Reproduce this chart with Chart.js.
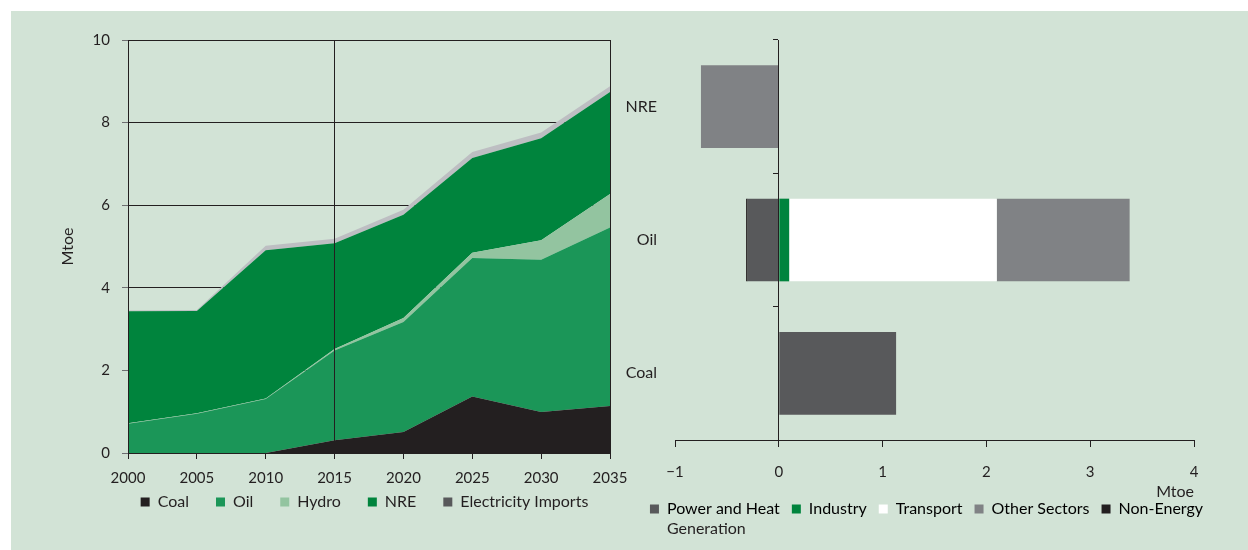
<!DOCTYPE html>
<html lang="en">
<head>
  <meta charset="UTF-8" />
  <title>Energy demand and change by sector</title>
  <script src="https://cdn.jsdelivr.net/npm/chart.js"></script>
  <style>
    html, body { margin: 0; padding: 0; background: #fff; overflow: hidden; }
    #panel { position: absolute; left: 11px; top: 11px; right: 0; bottom: 0; background: #d2e3d6; }
    .box { position: absolute; top: 0; height: 550px; }
    #leftBox { left: 0; width: 729px; }
    #rightBox { left: 610px; width: 633px; }
  </style>
</head>
<body>
  <div id="panel"></div>
  <div class="box" id="leftBox"><canvas id="areaChart"></canvas></div>
  <div class="box" id="rightBox"><canvas id="barChart"></canvas></div>

  <script>
    // left chart: primary energy by fuel, Mtoe (stacked)
    const years = ['2000', '2005', '2010', '2015', '2020', '2025', '2030', '2035'];
    const coal  = [0, 0, 0, 0.31, 0.51, 1.37, 0.99, 1.14];
    const oil   = [0.71, 0.95, 1.31, 2.17, 2.66, 3.35, 3.69, 4.32];
    const hydro = [0.01, 0.01, 0.01, 0.04, 0.10, 0.13, 0.47, 0.81];
    const nre   = [2.71, 2.48, 3.59, 2.56, 2.50, 2.29, 2.47, 2.47];
    const elecImports = [0.02, 0.02, 0.11, 0.11, 0.12, 0.15, 0.14, 0.14];
    const markedYears = ['2015', '2035'];

    // right chart: change by sector, Mtoe
    const fuels = ['NRE', 'Oil', 'Coal'];
    const powerHeat    = [0, -0.30, 1.13];
    const industry     = [0, 0.10, 0];
    const transport    = [0, 2.00, 0];
    const otherSectors = [-0.75, 1.28, 0];
    const nonEnergy    = [0, -0.015, 0];

    const ink = '#231f20';
    const font = { family: 'Lato', size: 16 };
    const tickFont = { family: 'Lato', size: 15 };
    Chart.defaults.color = ink;
    Chart.defaults.font.family = 'Lato';
    Chart.defaults.font.size = 16;

    const areaSeries = [
      { label: 'Coal', data: coal, color: '#231f20', key: '#231f20' },
      { label: 'Oil', data: oil, color: '#1b9658', key: '#1b9658' },
      { label: 'Hydro', data: hydro, color: '#93c4a0', key: '#93c4a0' },
      { label: 'NRE', data: nre, color: '#00843d', key: '#00843d' },
      { label: 'Electricity Imports', data: elecImports, color: '#bdbec2', key: '#58595b' }
    ];

    new Chart(document.getElementById('areaChart'), {
      type: 'line',
      data: {
        labels: years,
        datasets: areaSeries.map((s, i) => ({
          label: s.label,
          data: s.data,
          backgroundColor: s.color,
          borderWidth: 0,
          pointRadius: 0,
          tension: 0,
          fill: i === 0 ? 'origin' : '-1'
        }))
      },
      options: {
        responsive: true,
        maintainAspectRatio: false,
        animation: false,
        layout: { padding: { left: 0, right: 0, top: 40, bottom: 30 } },
        plugins: {
          tooltip: { enabled: false },
          legend: {
            position: 'bottom',
            // empty title with negative padding pulls the row up, so item spacing can stay wide
            title: { display: true, text: '', font: { family: 'Lato', size: 14 }, padding: { top: -40.8, bottom: 0 } },
            labels: {
              boxWidth: 9, boxHeight: 9, padding: 27, font: font,
              generateLabels: chart => areaSeries.map((s, i) => ({
                text: s.label, fillStyle: s.key, strokeStyle: s.key, lineWidth: 0, datasetIndex: i
              }))
            }
          }
        },
        scales: {
          x: {
            offset: false,
            grid: {
              z: 1,
              color: c => markedYears.includes(years[c.index]) ? ink : 'transparent',
              tickColor: ink, tickLength: 6
            },
            border: { display: true, color: ink, z: 1 },
            ticks: { padding: 10, maxRotation: 0, autoSkip: false, font: tickFont },
            afterFit: s => { s.height = 38; }
          },
          y: {
            stacked: true,
            min: 0, max: 10,
            ticks: { stepSize: 2, padding: 12, font: tickFont },
            grid: { color: ink, tickColor: '#6d6e71', tickLength: 6 },
            border: { display: true, color: ink, z: 1 },
            title: { display: true, text: 'Mtoe', font: font, padding: { top: 58.4, bottom: 0 } },
            afterFit: s => { s.width = 128; }
          },
          yEdge: {
            position: 'right',
            display: true,
            ticks: { display: false },
            grid: { display: false },
            border: { display: true, color: ink, z: 1 },
            afterFit: s => { s.width = 119; }
          }
        }
      }
    });

    const barSeries = [
      { label: ['Power and Heat', 'Generation'], data: powerHeat, color: '#58595b' },
      { label: ['Industry'], data: industry, color: '#00843d' },
      { label: ['Transport'], data: transport, color: '#ffffff' },
      { label: ['Other Sectors'], data: otherSectors, color: '#808285' },
      { label: ['Non-Energy'], data: nonEnergy, color: '#231f20' }
    ];

    // writes the extra lines of a wrapped legend label under its first line
    const legendExtraLines = {
      id: 'legendExtraLines',
      afterDraw(chart) {
        const lg = chart.legend;
        if (!lg || !lg.legendHitBoxes) return;
        const ctx = chart.ctx;
        const lab = lg.options.labels;
        ctx.save();
        ctx.font = '16px Lato';
        ctx.fillStyle = ink;
        ctx.textAlign = 'left';
        ctx.textBaseline = 'middle';
        barSeries.forEach((s, i) => {
          const hb = lg.legendHitBoxes[i];
          s.label.slice(1).forEach((line, k) => {
            ctx.fillText(line, hb.left + lab.boxWidth + 8, hb.top + hb.height / 2 + 20 * (k + 1));
          });
        });
        ctx.restore();
      }
    };

    new Chart(document.getElementById('barChart'), {
      type: 'bar',
      data: {
        labels: fuels,
        datasets: barSeries.map(s => ({
          label: s.label[0],
          data: s.data,
          backgroundColor: s.color,
          borderWidth: 0,
          categoryPercentage: 1,
          barPercentage: 0.62
        }))
      },
      options: {
        indexAxis: 'y',
        responsive: true,
        maintainAspectRatio: false,
        animation: false,
        layout: { padding: { left: 0, right: 0, top: 40, bottom: 23 } },
        plugins: {
          tooltip: { enabled: false },
          legend: {
            position: 'bottom',
            labels: {
              boxWidth: 9, boxHeight: 9, padding: 12, font: font,
              generateLabels: chart => barSeries.map((s, i) => ({
                text: s.label[0], fillStyle: s.color, strokeStyle: s.color, lineWidth: 0, datasetIndex: i
              }))
            }
          }
        },
        scales: {
          x: {
            stacked: true,
            min: -1, max: 4,
            ticks: {
              stepSize: 1, padding: 16, font: tickFont,
              callback: v => String(v).replace('-', '\u2212')
            },
            grid: { drawOnChartArea: false, tickColor: ink, tickLength: 7 },
            border: { display: true, color: ink },
            title: { display: true, text: 'Mtoe', align: 'end', font: font, padding: { top: 0, bottom: -12.6 } },
            afterFit: s => { s.height = 49; }
          },
          y: {
            stacked: true,
            grid: { display: false, drawTicks: false },
            border: { display: false },
            ticks: { padding: 18, font: font },
            afterFit: s => { s.width = 65; }
          },
          yZero: {
            type: 'category',
            labels: fuels,
            position: { x: 0 },
            offset: true,
            ticks: { display: false },
            grid: { offset: true, drawOnChartArea: false, tickLength: 5, tickColor: ink },
            border: { display: true, color: ink, z: 1 }
          },
          yPad: {
            type: 'category',
            labels: fuels,
            position: 'right',
            ticks: { display: false },
            grid: { display: false },
            border: { display: false },
            afterFit: s => { s.width = 49; }
          }
        }
      },
      plugins: [legendExtraLines]
    });
  </script>
</body>
</html>
